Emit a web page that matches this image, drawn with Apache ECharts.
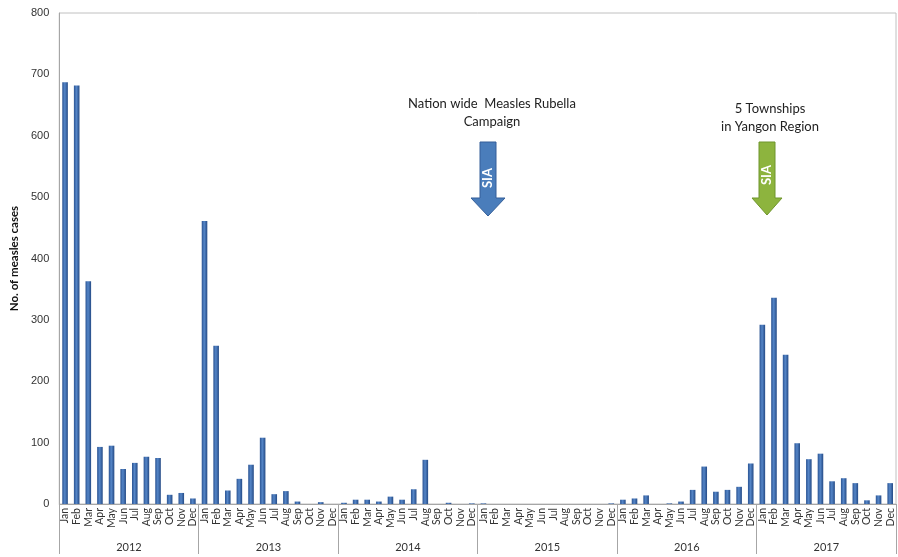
<!DOCTYPE html>
<html>
<head>
<meta charset="utf-8">
<script src="https://cdn.jsdelivr.net/npm/echarts@6/dist/echarts.min.js"></script>
<style>html,body{margin:0;padding:0;background:#fff;}#c{width:898px;height:557px;}</style>
</head>
<body>
<div id="c"></div>
<script>
const years = ['2012','2013','2014','2015','2016','2017'];
const months = ['Jan','Feb','Mar','Apr','May','Jun','Jul','Aug','Sep','Oct','Nov','Dec'];
const cases2012 = [687, 682, 363, 93, 95, 57, 67, 77, 75, 15, 18, 9];
const cases2013 = [461, 258, 22, 41, 64, 108, 16, 21, 4, 0, 3, 0];
const cases2014 = [2, 7, 7, 4, 12, 7, 24, 72, 0, 2, 0, 1];
const cases2015 = [1, 0, 0, 0, 0, 0, 0, 0, 0, 0, 0, 1];
const cases2016 = [7, 9, 14, 0, 1, 4, 23, 61, 20, 23, 28, 66];
const cases2017 = [292, 336, 243, 99, 73, 82, 37, 42, 34, 6, 14, 34];
const yTicks = [0, 100, 200, 300, 400, 500, 600, 700, 800];

const monthCats = [];
years.forEach(y => months.forEach(m => monthCats.push(m)));
const values = [].concat(cases2012, cases2013, cases2014, cases2015, cases2016, cases2017);

const chart = echarts.init(document.getElementById('c'), null, {renderer: 'canvas'});
const barGrad = new echarts.graphic.LinearGradient(0, 0, 1, 0, [
  {offset: 0, color: '#2a5392'},
  {offset: 0.45, color: '#5586c8'},
  {offset: 1, color: '#244a85'}
]);

function arrow(cx, top, shaftW, headW, shaftBottom, tip, fill, stroke) {
  return {
    type: 'polygon',
    shape: {points: [
      [cx - shaftW/2, top], [cx + shaftW/2, top], [cx + shaftW/2, shaftBottom],
      [cx + headW/2, shaftBottom], [cx, tip], [cx - headW/2, shaftBottom],
      [cx - shaftW/2, shaftBottom]
    ]},
    style: {fill: fill, stroke: stroke, lineWidth: 1}
  };
}

chart.setOption({
  animation: false,
  grid: {left: 57, right: 2, top: 13, bottom: 53, show: true, borderColor: '#c0c0c0', borderWidth: 1},
  xAxis: [
    {
      type: 'category', data: monthCats, gridIndex: 0,
      axisLine: {lineStyle: {color: '#a6a6a6'}},
      axisTick: {show: false},
      axisLabel: {interval: 0, rotate: 90, fontSize: 10.5, color: '#333', fontFamily: 'Lato', margin: 4}
    },
    {
      type: 'category', data: years, gridIndex: 0, position: 'bottom',
      axisLine: {show: false},
      axisTick: {show: true, interval: 0, length: 50, lineStyle: {color: '#a6a6a6'}},
      axisLabel: {interval: 0, fontSize: 11, color: '#333', fontFamily: 'Lato', margin: 38}
    }
  ],
  yAxis: {
    type: 'value', min: yTicks[0], max: yTicks[yTicks.length - 1], interval: 100,
    name: 'No. of measles cases', nameLocation: 'middle', nameGap: 34,
    nameTextStyle: {fontWeight: 'bold', fontSize: 11.5, color: '#111', fontFamily: 'Lato'},
    axisLine: {show: true, lineStyle: {color: '#a6a6a6'}},
    axisTick: {show: false},
    splitLine: {show: false},
    axisLabel: {fontSize: 11, color: '#333', fontFamily: 'Liberation Sans Narrow, Liberation Sans', margin: 10}
  },
  series: [{
    type: 'bar', data: values, xAxisIndex: 0, barWidth: '48%',
    itemStyle: {color: barGrad}
  }],
  graphic: [
    {type: 'text', x: 492, y: 104, style: {text: 'Nation wide  Measles Rubella', font: '13px Lato', fill: '#222', align: 'center', verticalAlign: 'middle'}},
    {type: 'text', x: 492, y: 122, style: {text: 'Campaign', font: '13px Lato', fill: '#222', align: 'center', verticalAlign: 'middle'}},
    arrow(488, 142, 16, 34, 198, 216, '#4a7dbb', '#345f99'),
    {type: 'text', x: 488, y: 178, rotation: Math.PI/2, style: {text: 'SIA', font: 'bold 13px Lato', fill: '#fff', align: 'center', verticalAlign: 'middle'}},
    {type: 'text', x: 770, y: 109, style: {text: '5 Townships', font: '13px Lato', fill: '#222', align: 'center', verticalAlign: 'middle'}},
    {type: 'text', x: 770, y: 127, style: {text: 'in Yangon Region', font: '13px Lato', fill: '#222', align: 'center', verticalAlign: 'middle'}},
    arrow(767, 142, 16, 30, 198, 215, '#8db43e', '#6f952c'),
    {type: 'text', x: 767, y: 175, rotation: Math.PI/2, style: {text: 'SIA', font: 'bold 13px Lato', fill: '#fff', align: 'center', verticalAlign: 'middle'}}
  ]
});
</script>
</body>
</html>
